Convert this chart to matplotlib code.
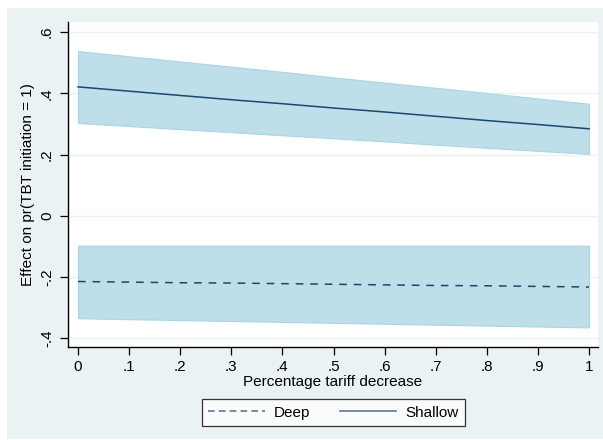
import matplotlib
matplotlib.use("Agg")
import matplotlib.pyplot as plt
from matplotlib.lines import Line2D
from matplotlib.patches import Rectangle

# tariff decrease grid and predicted effects
x = [0.0, 0.1, 0.2, 0.3, 0.4, 0.5, 0.6, 0.7, 0.8, 0.9, 1.0]
shallow = [0.421, 0.407, 0.393, 0.379, 0.366, 0.352, 0.339, 0.325, 0.311, 0.298, 0.284]
shallow_lo = [0.303, 0.293, 0.283, 0.273, 0.263, 0.253, 0.243, 0.232, 0.222, 0.212, 0.202]
shallow_hi = [0.538, 0.521, 0.504, 0.487, 0.470, 0.452, 0.435, 0.418, 0.401, 0.383, 0.366]
deep = [-0.215, -0.217, -0.219, -0.220, -0.222, -0.224, -0.226, -0.228, -0.229, -0.231, -0.233]
deep_lo = [-0.335, -0.338, -0.341, -0.344, -0.347, -0.350, -0.353, -0.356, -0.359, -0.362, -0.365]
deep_hi = [-0.098, -0.098, -0.098, -0.098, -0.098, -0.098, -0.098, -0.098, -0.098, -0.098, -0.098]

xticks = [0, .1, .2, .3, .4, .5, .6, .7, .8, .9, 1]
xticklabels = ["0", ".1", ".2", ".3", ".4", ".5", ".6", ".7", ".8", ".9", "1"]
yticks = [-.4, -.2, 0, .2, .4, .6]
yticklabels = ["-.4", "-.2", "0", ".2", ".4", ".6"]

BG = "#EAF2F3"
BAND = "#BEDFE9"
BAND_EDGE = "#A9D5E5"
LINE = "#1A476F"
FS = 11

plt.rcParams["font.family"] = ["Liberation Sans", "DejaVu Sans"]
plt.rcParams["font.size"] = FS

W, H = 603, 440
fig = plt.figure(figsize=(W / 100, H / 100), dpi=100, facecolor="white")
fig.patches.append(Rectangle((7 / W, 1 / H), 1 - 7 / W, (440 - 9) / H,
                             transform=fig.transFigure, facecolor=BG,
                             edgecolor="none", zorder=-10))

ax = fig.add_axes([68 / W, 93 / H, 530 / W, 325 / H])
ax.set_facecolor("white")

ax.fill_between(x, shallow_lo, shallow_hi, facecolor=BAND, edgecolor=BAND_EDGE,
                linewidth=0.8, zorder=2)
ax.fill_between(x, deep_lo, deep_hi, facecolor=BAND, edgecolor=BAND_EDGE,
                linewidth=0.8, zorder=2)
ax.plot(x, shallow, color=LINE, linewidth=1.1, zorder=3)
ax.plot(x, deep, color=LINE, linewidth=1.1, linestyle=(0, (5, 4.5)), zorder=3)

ax.set_xlim(-0.0196, 1.0176)
ax.set_ylim(-0.429, 0.633)
ax.set_xticks(xticks)
ax.set_xticklabels(xticklabels)
ax.set_yticks(yticks)
ax.set_yticklabels(yticklabels, rotation=90, va="center")

ax.grid(axis="y", color=BG, linewidth=1.0, zorder=0)
ax.set_axisbelow(True)
for s in ["top", "right"]:
    ax.spines[s].set_visible(False)
for s in ["left", "bottom"]:
    ax.spines[s].set_color("black")
    ax.spines[s].set_linewidth(1.0)
ax.tick_params(direction="out", length=6, width=0.9, color="black", labelsize=FS)
ax.tick_params(axis="x", pad=3)
ax.tick_params(axis="y", pad=4)

ax.set_xlabel("Percentage tariff decrease", fontsize=FS, labelpad=1)
ax.set_ylabel("Effect on pr(TBT initiation = 1)", fontsize=FS, labelpad=4)

handles = [
    Line2D([], [], color="#5A7B99", linewidth=1.2, linestyle=(0, (4, 2.5))),
    Line2D([], [], color="#5A7B99", linewidth=1.2),
]
leg = fig.legend(handles, ["Deep", "Shallow"], loc="center",
                 bbox_to_anchor=(333.5 / W, (440 - 412.5) / H), ncol=2,
                 frameon=True, fancybox=False, edgecolor="black",
                 fontsize=FS, handlelength=3.7, handletextpad=0.6,
                 columnspacing=1.9, borderpad=0.4)
leg.get_frame().set_linewidth(0.9)
leg.get_frame().set_facecolor("white")

fig.savefig("out.png", dpi=100, facecolor=fig.get_facecolor())
